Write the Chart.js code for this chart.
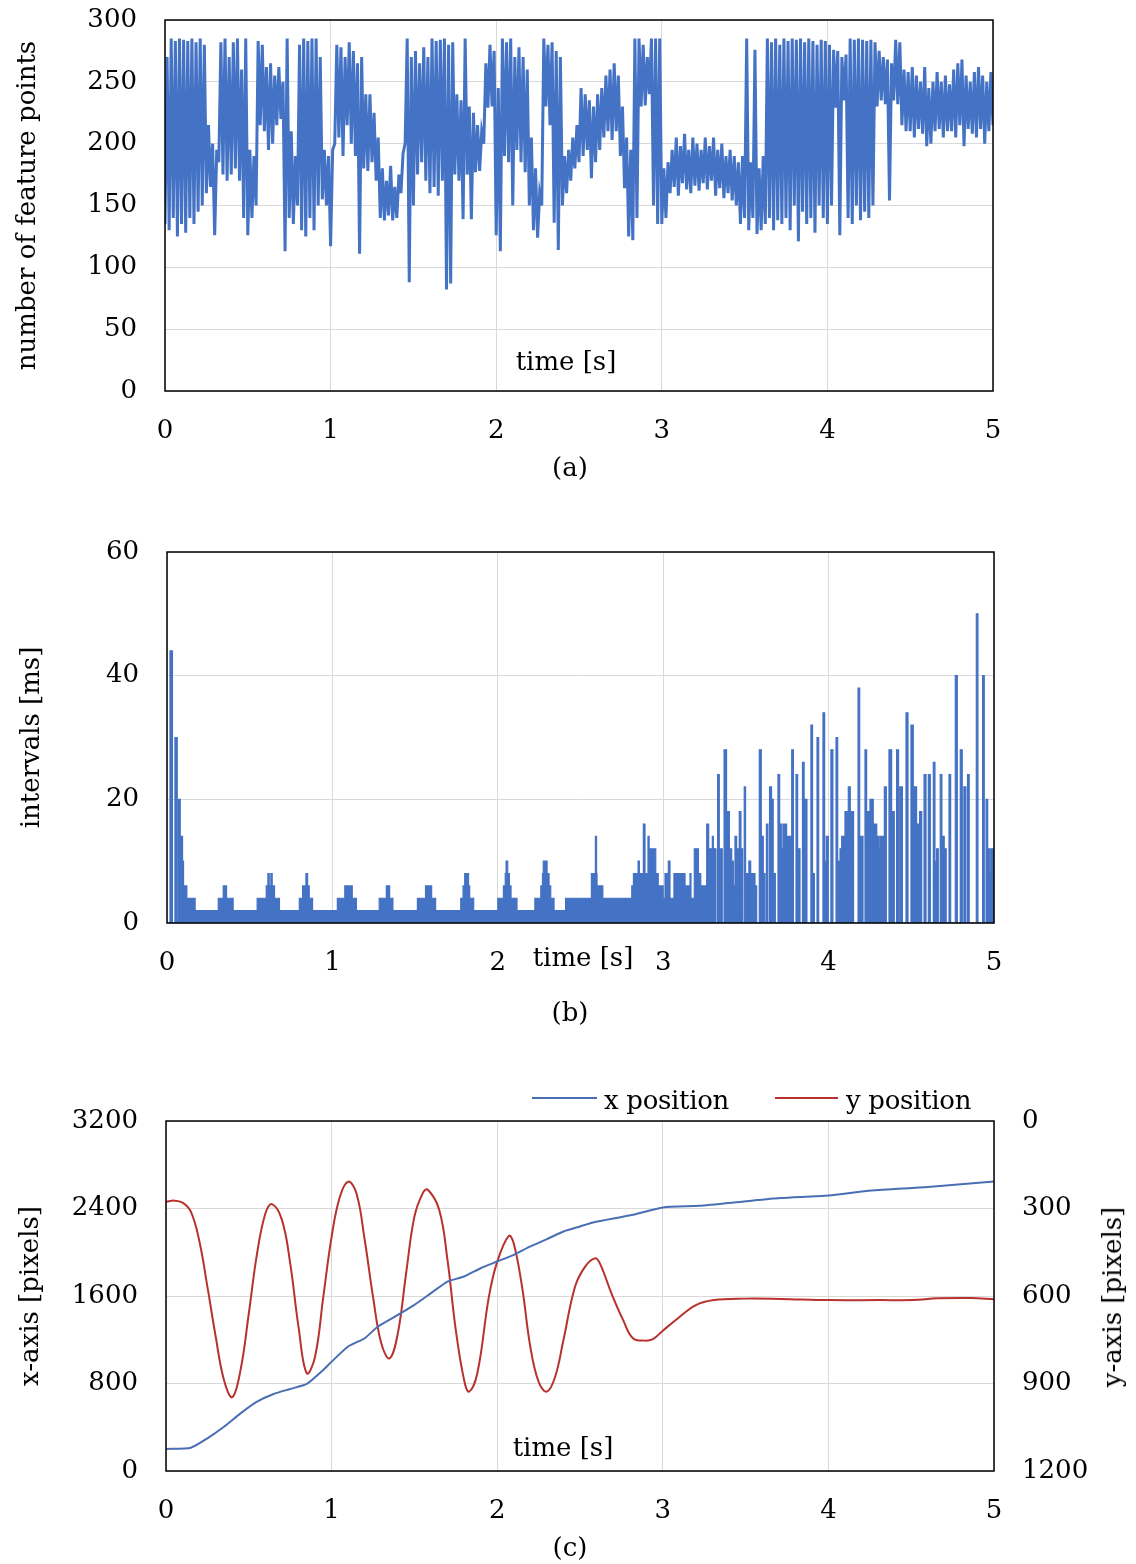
<!DOCTYPE html>
<html>
<head>
<meta charset="utf-8">
<script src="https://cdn.jsdelivr.net/npm/chart.js@4.4.0/dist/chart.umd.min.js"></script>
<style>
  body { margin: 0; background: #fff; width: 1136px; height: 1564px; position: relative; overflow: hidden; font-family: "DejaVu Serif", serif; color: #000; }
  canvas { position: absolute; left: 0; }
  .lbl { position: absolute; font-size: 26px; line-height: 1; white-space: nowrap; transform: translate(-50%, -50%); }
  .key { position: absolute; height: 2px; }
  .keytxt { position: absolute; font-size: 26px; line-height: 1; white-space: nowrap; transform: translateY(-50%); }
</style>
</head>
<body>
<canvas id="chartA" width="1136" height="460" style="top:0"></canvas>
<canvas id="chartB" width="1136" height="470" style="top:510px"></canvas>
<canvas id="chartC" width="1136" height="470" style="top:1080px"></canvas>

<div class="lbl" style="left:566px;top:361px">time [s]</div>
<div class="lbl" style="left:570px;top:467px">(a)</div>
<div class="lbl" style="left:583px;top:957px">time [s]</div>
<div class="lbl" style="left:570px;top:1012px">(b)</div>
<div class="lbl" style="left:563px;top:1447px">time [s]</div>
<div class="lbl" style="left:570px;top:1547px">(c)</div>
<div class="lbl" style="left:1112px;top:1297px;transform:translate(-50%,-50%) rotate(-90deg)">y-axis [pixels]</div>

<!-- legend for (c) -->
<div class="key" style="left:532px;top:1097px;width:65px;background:#4A6EB3"></div>
<div class="keytxt" style="left:604px;top:1100px;letter-spacing:-0.3px">x position</div>
<div class="key" style="left:775px;top:1097px;width:63px;background:#B8312C"></div>
<div class="keytxt" style="left:846px;top:1100px;letter-spacing:-0.3px">y position</div>

<script>
// (a) number of feature points, one sample every 12.5 ms (trace swings low/high)
const featureStep = 0.0125;
const featurePoints = [
  135, 270, 130, 285, 140, 283, 125, 285, 135, 284, 128, 283, 140, 285, 135, 282, 145, 285, 150, 280,
  160, 215, 165, 200, 126, 195, 185, 282, 175, 285, 170, 270, 175, 282, 180, 285, 170, 260, 140, 285,
  126, 195, 140, 190, 150, 283, 215, 280, 210, 262, 195, 265, 200, 255, 215, 262, 220, 250, 113, 285,
  140, 210, 135, 190, 150, 280, 130, 285, 125, 283, 140, 285, 130, 285, 150, 270, 155, 195, 150, 190,
  117, 195, 200, 280, 205, 278, 190, 270, 215, 282, 200, 275, 190, 265, 111, 270, 180, 240, 178, 240,
  185, 225, 170, 205, 140, 180, 138, 170, 142, 182, 138, 165, 140, 175, 160, 192, 200, 285, 88, 270,
  150, 275, 175, 265, 185, 278, 170, 270, 160, 285, 165, 283, 158, 284, 170, 285, 82, 280, 87, 282,
  175, 240, 170, 235, 139, 285, 175, 230, 139, 225, 177, 215, 178, 210, 200, 265, 229, 280, 230, 275,
  126, 245, 113, 285, 190, 282, 185, 285, 150, 270, 195, 278, 185, 270, 177, 260, 150, 205, 130, 180,
  124, 160, 150, 285, 230, 280, 215, 282, 136, 275, 114, 270, 150, 190, 160, 195, 170, 205, 180, 215,
  185, 245, 190, 240, 195, 235, 172, 230, 185, 240, 195, 245, 205, 255, 210, 260, 203, 265, 210, 255,
  190, 230, 164, 205, 125, 195, 122, 285, 140, 285, 230, 280, 231, 270, 240, 285, 150, 285, 135, 285,
  135, 180, 140, 185, 160, 195, 165, 205, 158, 198, 168, 208, 163, 195, 160, 205, 166, 200, 162, 195,
  168, 205, 163, 198, 170, 205, 158, 195, 164, 200, 156, 190, 160, 195, 154, 190, 150, 185, 135, 190,
  140, 285, 130, 185, 140, 276, 127, 180, 130, 190, 135, 285, 140, 282, 130, 285, 138, 280, 135, 285,
  140, 283, 130, 285, 150, 284, 121, 285, 145, 282, 135, 285, 140, 283, 128, 280, 150, 284, 140, 283,
  135, 280, 150, 276, 229, 275, 126, 270, 235, 272, 140, 285, 135, 284, 150, 285, 138, 284, 145, 283,
  140, 284, 150, 282, 230, 275, 235, 270, 232, 268, 154, 265, 235, 284, 232, 282, 215, 260, 210, 258,
  210, 262, 205, 255, 212, 250, 208, 262, 198, 245, 200, 250, 210, 258, 212, 250, 205, 255, 210, 248,
  210, 260, 205, 265, 215, 268, 198, 255, 212, 250, 208, 258, 205, 262, 212, 255, 200, 250, 210, 258, 215, 255
];

// (b) frame intervals [ms]: each value holds from its start time until the next one
const intervalStart = [
  0, 0.018, 0.033, 0.048, 0.062, 0.07, 0.08, 0.094, 0.1, 0.12, 0.17,
  0.31, 0.34, 0.36, 0.40,
  0.545, 0.60, 0.61, 0.618, 0.628, 0.636, 0.65, 0.68,
  0.80, 0.82, 0.84, 0.85, 0.86, 0.88,
  1.03, 1.075, 1.12, 1.145,
  1.283, 1.326, 1.346, 1.366,
  1.514, 1.563, 1.60, 1.624,
  1.776, 1.79, 1.80, 1.823, 1.83, 1.854,
  2.0, 2.034, 2.045, 2.05, 2.06, 2.07, 2.08, 2.116,
  2.224, 2.26, 2.27, 2.275, 2.298, 2.31, 2.32, 2.34,
  2.41, 2.56, 2.566, 2.59, 2.597, 2.60, 2.635, 2.697, 2.703,
  2.81, 2.82, 2.848, 2.856, 2.88, 2.89, 2.908, 2.915, 2.935, 2.942, 2.955, 2.97,
  3.0, 3.011, 3.031, 3.041, 3.065, 3.132, 3.162, 3.168, 3.188, 3.213, 3.227, 3.263, 3.275, 3.297, 3.303,
  3.319, 3.329, 3.339, 3.357, 3.368, 3.383, 3.4, 3.414, 3.424, 3.434, 3.444, 3.46, 3.47, 3.48, 3.49,
  3.498, 3.518, 3.529, 3.555, 3.565, 3.581, 3.593, 3.605, 3.615, 3.624, 3.633, 3.643, 3.655, 3.665, 3.678,
  3.694, 3.704, 3.714, 3.724, 3.746, 3.777, 3.787, 3.803, 3.813, 3.827, 3.842, 3.852, 3.857, 3.869,
  3.893, 3.903, 3.914, 3.93, 3.94, 3.966, 3.976, 3.986, 3.998, 4.014, 4.026, 4.045, 4.055, 4.069, 4.079,
  4.099, 4.119, 4.131, 4.151, 4.178, 4.188, 4.208, 4.22, 4.23, 4.25, 4.27, 4.291, 4.305, 4.313, 4.331,
  4.337, 4.349, 4.365, 4.381, 4.397, 4.411, 4.423, 4.431, 4.446, 4.468, 4.48, 4.498, 4.512, 4.532, 4.55,
  4.563, 4.577, 4.589, 4.603, 4.615, 4.633, 4.643, 4.653, 4.663, 4.675, 4.685, 4.699, 4.711, 4.728, 4.738,
  4.766, 4.778, 4.796, 4.808, 4.818, 4.83, 4.84, 4.85, 4.893, 4.903, 4.931, 4.941, 4.952, 4.962, 4.974,
  4.982, 5.0
];
const intervalMs = [
  0, 44, 0, 30, 0, 20, 14, 10, 6, 4, 2,
  4, 6, 4, 2,
  4, 6, 8, 6, 8, 6, 4, 2,
  4, 6, 8, 6, 4, 2,
  4, 6, 4, 2,
  4, 6, 4, 2,
  4, 6, 4, 2,
  4, 6, 8, 6, 4, 2,
  4, 6, 8, 10, 8, 6, 4, 2,
  4, 6, 8, 10, 8, 6, 4, 2,
  4, 2, 8, 14, 8, 6, 4, 2, 4,
  6, 8, 10, 8, 16, 8, 14, 12, 8, 12, 8, 6,
  4, 8, 10, 4, 8, 6, 8, 4, 12, 8, 6, 16, 12, 14, 12,
  0, 24, 12, 0, 28, 18, 12, 10, 6, 14, 12, 18, 12, 0, 22,
  8, 10, 8, 6, 0, 28, 14, 8, 0, 16, 0, 22, 20, 8, 0,
  24, 16, 12, 16, 14, 28, 0, 24, 12, 0, 26, 0, 20, 0,
  32, 8, 0, 30, 0, 34, 10, 14, 0, 28, 0, 30, 10, 12, 14,
  18, 22, 18, 0, 38, 14, 0, 28, 18, 20, 16, 14, 12, 14, 0,
  22, 0, 28, 18, 0, 28, 0, 22, 0, 34, 0, 32, 22, 16, 18,
  0, 24, 0, 24, 0, 26, 10, 12, 0, 24, 14, 12, 0, 24, 0,
  40, 0, 28, 0, 22, 0, 24, 0, 50, 0, 40, 0, 20, 12, 8,
  12, 12
];

// (c) marker position: x on the left axis, y on the reversed right axis
const xPosTime = [0, 0.15, 0.25, 0.35, 0.45, 0.55, 0.65, 0.75, 0.85, 0.95, 1.0, 1.1, 1.2, 1.28, 1.4, 1.5, 1.6, 1.7,
  1.8, 1.9, 2.0, 2.1, 2.2, 2.3, 2.4, 2.5, 2.58, 2.82, 3.0, 3.22, 3.49, 3.71, 4.0, 4.26, 4.6, 5.0];
const xPosPx = [201, 213, 299, 405, 527, 634, 704, 750, 796, 924, 1000, 1138, 1214, 1321, 1427, 1519, 1626, 1732,
  1778, 1854, 1915, 1976, 2053, 2120, 2190, 2236, 2272, 2342, 2410, 2425, 2464, 2495, 2519, 2565, 2596, 2647];
const yPosTime = [0, 0.05, 0.1, 0.15, 0.2, 0.25, 0.3, 0.35, 0.4, 0.45, 0.5, 0.55, 0.6, 0.64, 0.7, 0.75, 0.8, 0.85,
  0.9, 0.95, 1.0, 1.05, 1.1, 1.15, 1.2, 1.25, 1.3, 1.35, 1.4, 1.45, 1.5, 1.55, 1.58, 1.65, 1.7, 1.75, 1.8, 1.83,
  1.88, 1.95, 2.0, 2.07, 2.1, 2.15, 2.2, 2.25, 2.3, 2.35, 2.4, 2.47, 2.53, 2.59, 2.62, 2.69, 2.76, 2.82, 2.89,
  2.94, 3.0, 3.09, 3.2, 3.31, 3.49, 3.71, 4.0, 4.31, 4.51, 4.66, 4.86, 5.0];
const yPosPx = [277, 273, 280, 311, 408, 568, 739, 888, 947, 854, 660, 454, 317, 285, 339, 488, 705, 865,
  808, 602, 397, 260, 208, 248, 408, 602, 762, 814, 728, 522, 328, 248, 235, 305, 477, 717, 888, 928,
  865, 602, 483, 394, 420, 568, 774, 894, 928, 877, 751, 568, 500, 471, 488, 591, 682, 745, 753,
  748, 719, 677, 631, 614, 609, 610, 614, 614, 614, 608, 607, 611];

const BLUE = '#4472C4';
const GRID = '#d9d9d9';

Chart.defaults.font.family = '"DejaVu Serif", serif';
Chart.defaults.font.size = 26;
Chart.defaults.color = '#000';

// black box round the plot area
const frame = {
  id: 'frame',
  afterDraw(chart) {
    const { ctx, chartArea: a } = chart;
    ctx.save();
    ctx.strokeStyle = '#000';
    ctx.lineWidth = 1.5;
    ctx.strokeRect(a.left, a.top, a.right - a.left, a.bottom - a.top);
    ctx.restore();
  }
};

function timeAxis(height) {
  return {
    type: 'linear', min: 0, max: 5,
    afterFit: s => { s.height = height; },
    border: { display: false },
    grid: { color: GRID, drawTicks: false },
    ticks: { stepSize: 1, padding: 25, maxRotation: 0 }
  };
}

// gap between tick labels and plot comes from an invisible tick mark,
// so the label padding does not push the plot area down
function valueAxis(width, min, max, step, title, titlePad) {
  return {
    type: 'linear', min, max,
    afterFit: s => { s.width = width; },
    border: { display: false },
    grid: { color: GRID, drawTicks: true, tickLength: 28, tickColor: 'rgba(0,0,0,0)' },
    ticks: { stepSize: step, padding: 0, callback: v => String(v) },
    title: { display: true, text: title, padding: { top: titlePad } }
  };
}

const common = {
  responsive: false,
  animation: false,
  events: [],
  plugins: { legend: { display: false }, tooltip: { enabled: false } },
  elements: { point: { radius: 0 } }
};

// (a)
new Chart(document.getElementById('chartA'), {
  type: 'line',
  data: {
    datasets: [{
      data: featurePoints.map((v, i) => ({ x: i * featureStep, y: v })),
      borderColor: BLUE, borderWidth: 3, tension: 0, fill: false
    }]
  },
  options: {
    ...common,
    layout: { padding: { top: 20, right: 143, bottom: 0, left: 0 } },
    scales: {
      x: timeAxis(69),
      y: valueAxis(165, 0, 300, 50, 'number of feature points', 13)
    }
  },
  plugins: [frame]
});

// (b)
new Chart(document.getElementById('chartB'), {
  type: 'line',
  data: {
    datasets: [{
      data: intervalStart.map((t, i) => ({ x: t, y: intervalMs[i] })),
      borderColor: BLUE, backgroundColor: BLUE, borderWidth: 1.2,
      stepped: true, fill: 'origin'
    }]
  },
  options: {
    ...common,
    layout: { padding: { top: 42, right: 142, bottom: 0, left: 0 } },
    scales: {
      x: timeAxis(57),
      y: valueAxis(167, 0, 60, 20, 'intervals [ms]', 17)
    }
  },
  plugins: [frame]
});

// (c)
new Chart(document.getElementById('chartC'), {
  type: 'line',
  data: {
    datasets: [
      {
        label: 'x position',
        data: xPosTime.map((t, i) => ({ x: t, y: xPosPx[i] })),
        borderColor: '#4A6EB3', borderWidth: 2, tension: 0.2, yAxisID: 'y'
      },
      {
        label: 'y position',
        data: yPosTime.map((t, i) => ({ x: t, y: yPosPx[i] })),
        borderColor: '#B8312C', borderWidth: 2, tension: 0.4, yAxisID: 'y2'
      }
    ]
  },
  options: {
    ...common,
    layout: { padding: { top: 41, right: 0, bottom: 0, left: 0 } },
    scales: {
      x: timeAxis(79),
      y: valueAxis(166, 0, 3200, 800, 'x-axis [pixels]', 16),
      y2: {
        type: 'linear', position: 'right', reverse: true, min: 0, max: 1200,
        afterFit: s => { s.width = 142; },
        border: { display: false },
        grid: { drawOnChartArea: false, drawTicks: true, tickLength: 28, tickColor: 'rgba(0,0,0,0)' },
        ticks: { stepSize: 300, padding: 0, callback: v => String(v) }
      }
    }
  },
  plugins: [frame]
});
</script>
</body>
</html>
